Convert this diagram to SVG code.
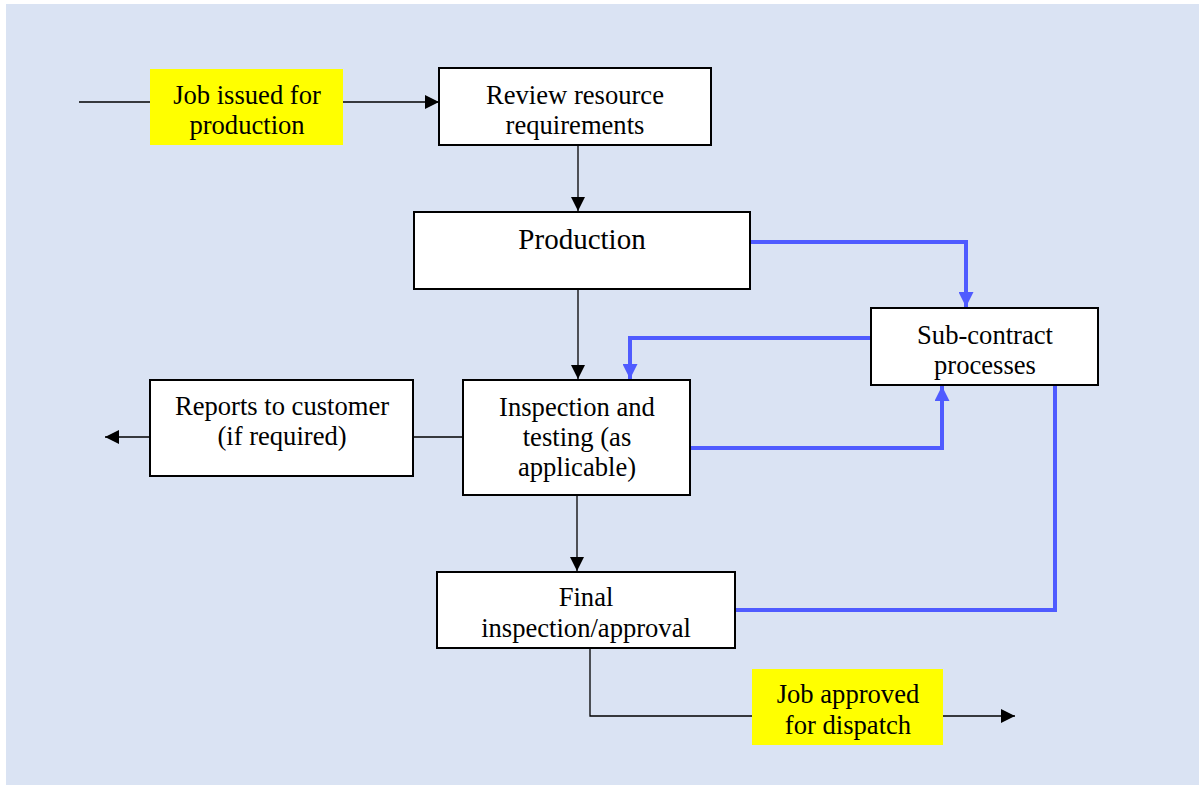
<svg xmlns="http://www.w3.org/2000/svg" width="1199" height="786" viewBox="0 0 1199 786">
<defs>
<style>
.box{fill:#fff;stroke:#000;stroke-width:2}
.hl{fill:#ffff00}
.t{font-size:26.6px;fill:#000;text-anchor:middle}
.big{font-size:29px}
.k{fill:none;stroke:#000;stroke-width:1.3}
.b{fill:none;stroke:#4f5bff;stroke-width:4}
</style>
<marker id="ak" viewBox="0 0 10 10" refX="10" refY="5" markerWidth="14" markerHeight="14" markerUnits="userSpaceOnUse" orient="auto"><path d="M0,0L10,5L0,10z" fill="#000"/></marker>
<marker id="ab" viewBox="0 0 10 10" refX="10" refY="5" markerWidth="15" markerHeight="15" markerUnits="userSpaceOnUse" orient="auto"><path d="M0,0L10,5L0,10z" fill="#4f5bff"/></marker>
</defs>
<rect x="6" y="4" width="1193" height="781" fill="#dae3f3"/>
<g id="connectors">
<path class="k" d="M79,102H150"/>
<path class="k" d="M343,102H439" marker-end="url(#ak)"/>
<path class="k" d="M578,145V211" marker-end="url(#ak)"/>
<path class="k" d="M578,289V379" marker-end="url(#ak)"/>
<path class="k" d="M413,437H463"/>
<path class="k" d="M150,437H105" marker-end="url(#ak)"/>
<path class="k" d="M577,495V571" marker-end="url(#ak)"/>
<path class="k" d="M590,648V716H752"/>
<path class="k" d="M943,716H1015" marker-end="url(#ak)"/>
<path class="b" d="M750,242H966V307" marker-end="url(#ab)"/>
<path class="b" d="M871,338H630V379" marker-end="url(#ab)"/>
<path class="b" d="M690,448H942V386" marker-end="url(#ab)"/>
<path class="b" d="M1055,385V610H735"/>
</g>
<g font-family="Liberation Serif, Times New Roman, serif">
<g id="job-issued"><rect class="hl" x="150" y="69" width="193" height="76"/><text class="t" x="247" y="104">Job issued for</text><text class="t" x="247" y="134">production</text></g>
<g id="review"><rect class="box" x="439" y="68" width="272" height="77"/><text class="t" x="575" y="104">Review resource</text><text class="t" x="575" y="134">requirements</text></g>
<g id="production"><rect class="box" x="414" y="212" width="336" height="77"/><text class="t big" x="582" y="249">Production</text></g>
<g id="subcontract"><rect class="box" x="871" y="308" width="227" height="77"/><text class="t" x="985" y="344">Sub-contract</text><text class="t" x="985" y="374">processes</text></g>
<g id="reports"><rect class="box" x="150" y="380" width="263" height="96"/><text class="t" x="282" y="415">Reports to customer</text><text class="t" x="282" y="445">(if required)</text></g>
<g id="inspection"><rect class="box" x="463" y="380" width="227" height="115"/><text class="t" x="577" y="416">Inspection and</text><text class="t" x="577" y="446">testing (as</text><text class="t" x="577" y="476">applicable)</text></g>
<g id="final"><rect class="box" x="437" y="572" width="298" height="76"/><text class="t" x="586" y="606">Final</text><text class="t" x="586" y="637">inspection/approval</text></g>
<g id="job-approved"><rect class="hl" x="752" y="669" width="191" height="76"/><text class="t" x="848" y="703">Job approved</text><text class="t" x="848" y="734">for dispatch</text></g>
</g>
</svg>
